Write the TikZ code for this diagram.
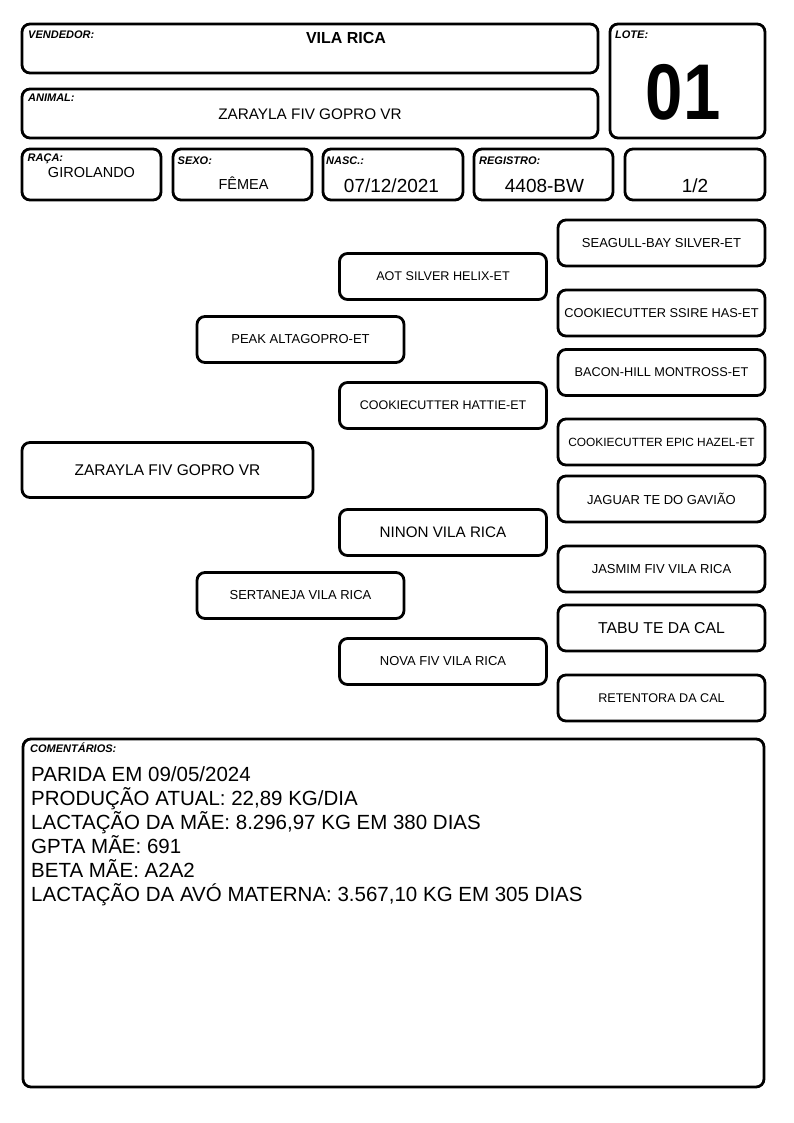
\documentclass[tikz,border=0pt]{standalone}
\usepackage{fontspec}
\setmainfont{Liberation Sans}
\newcommand{\fs}[1]{\fontsize{#1}{#1}\selectfont}
\tikzset{
  box/.style={draw, line width=2.8pt, rounded corners=8pt, inner sep=0pt, fill=white},
  lab/.style={font=\fs{11}\bfseries\itshape, anchor=base west, inner sep=0pt},
  val/.style={anchor=base, inner sep=0pt},
  ped/.style={box, minimum width=207pt, minimum height=46pt, font=\fs{13}, align=center},
  cline/.style={anchor=base west, inner sep=0pt, font=\fs{20.5}},
}
\begin{document}
\begin{tikzpicture}[x=1pt, y=-1pt]
\fill[white] (0,0) rectangle (794,1123);
\path[use as bounding box] (0,0) rectangle (794,1123);

% header boxes
\node[box, minimum width=576pt, minimum height=49pt] (vend) at (310,48.5) {};
\node[box, minimum width=576pt, minimum height=49pt] (animal) at (310,113.5) {};
\node[box, minimum width=155pt, minimum height=114pt] (lote) at (687.5,81) {};
\node[box, minimum width=139pt, minimum height=51pt] (raca) at (91.5,174.5) {};
\node[box, minimum width=139pt, minimum height=51pt] (sexo) at (242.5,174.5) {};
\node[box, minimum width=140pt, minimum height=51pt] (nasc) at (393,174.5) {};
\node[box, minimum width=139pt, minimum height=51pt] (reg) at (543.5,174.5) {};
\node[box, minimum width=140pt, minimum height=51pt] (frac) at (695,174.5) {};

% labels
\node[lab] (lvend) at (28,38.5) {VENDEDOR:};
\node[lab] (llote) at (615,38.5) {LOTE:};
\node[lab] (lanimal) at (28,102) {ANIMAL:};
\node[lab] (lraca) at (27.5,162) {RAÇA:};
\node[lab] (lsexo) at (177.5,165) {SEXO:};
\node[lab] (lnasc) at (326,165) {NASC.:};
\node[lab] (lreg) at (479,165) {REGISTRO:};

% values
\node[val, font=\fs{16}\bfseries] (tvend) at (346,43.5) {VILA RICA};
\node[val, font=\fs{15.3}] (tanimal) at (310,120) {ZARAYLA FIV GOPRO VR};
\node[val, font=\fs{79}\bfseries] (tlote) at (683,120) {\scalebox{0.85}[1]{01}};
\node[val, font=\fs{14.5}] (traca) at (91.5,178) {GIROLANDO};
\node[val, font=\fs{14.5}] (tsexo) at (243.5,190) {FÊMEA};
\node[val, font=\fs{19}] (tnasc) at (391.5,193) {07/12/2021};
\node[val, font=\fs{19}] (treg) at (544.5,193) {4408-BW};
\node[val, font=\fs{19}] (tfrac) at (695,193) {1/2};

% pedigree
\node[box, minimum width=291pt, minimum height=55pt, font=\fs{15.5}] (p0) at (167.5,470) {ZARAYLA FIV GOPRO VR};
\node[ped] (peak) at (300.5,339.5) {PEAK ALTAGOPRO-ET};
\node[ped] (sert) at (300.5,595.5) {SERTANEJA VILA RICA};
\node[ped, font=\fs{12.6}] (aot) at (443,276.5) {AOT SILVER HELIX-ET};
\node[ped, font=\fs{12.5}] (hattie) at (443,405.5) {COOKIECUTTER HATTIE-ET};
\node[ped, font=\fs{15.2}] (ninon) at (443,532.5) {NINON VILA RICA};
\node[ped] (nova) at (443,661.5) {NOVA FIV VILA RICA};
\node[ped] (seagull) at (661.5,243) {SEAGULL-BAY SILVER-ET};
\node[ped, font=\fs{12.8}] (ssire) at (661.5,313) {COOKIECUTTER SSIRE HAS-ET};
\node[ped, font=\fs{12.7}] (bacon) at (661.5,372.5) {BACON-HILL MONTROSS-ET};
\node[ped, font=\fs{11.9}] (hazel) at (661.5,442) {COOKIECUTTER EPIC HAZEL-ET};
\node[ped] (jaguar) at (661.5,499) {JAGUAR TE DO GAVIÃO};
\node[ped] (jasmim) at (661.5,569) {JASMIM FIV VILA RICA};
\node[ped, font=\fs{15.75}] (tabu) at (661.5,628) {TABU TE DA CAL};
\node[ped, font=\fs{12.6}] (retent) at (661.5,698) {RETENTORA DA CAL};

% comments
\node[box, minimum width=741pt, minimum height=348pt] (coment) at (393.5,913) {};
\node[lab] (lcoment) at (30,752.5) {COMENTÁRIOS:};
\node[cline] (c1) at (31,781) {PARIDA EM 09/05/2024};
\node[cline] (c2) at (31,805) {PRODUÇÃO ATUAL: 22,89 KG/DIA};
\node[cline] (c3) at (31,829) {LACTAÇÃO DA MÃE: 8.296,97 KG EM 380 DIAS};
\node[cline] (c4) at (31,853) {GPTA MÃE: 691};
\node[cline] (c5) at (31,877) {BETA MÃE: A2A2};
\node[cline] (c6) at (31,901) {LACTAÇÃO DA AVÓ MATERNA: 3.567,10 KG EM 305 DIAS};
\end{tikzpicture}
\end{document}
